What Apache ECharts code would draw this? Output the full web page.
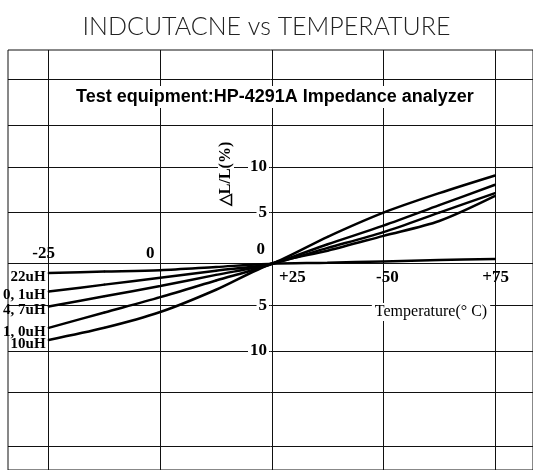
<!DOCTYPE html>
<html>
<head>
<meta charset="utf-8">
<title>Inductance vs Temperature</title>
<script src="https://cdn.jsdelivr.net/npm/echarts@6/dist/echarts.min.js"></script>
<style>
  html, body { margin: 0; padding: 0; background: #fff; }
  #chart { width: 533px; height: 470px; }
</style>
</head>
<body>
<div id="chart"></div>
<script>
// temperature points (deg C) the curves were read at
const temps = [-25, -12.5, 0, 12.5, 25, 37.5, 50, 62.5, 75];

// dL/L (%) for each part
const seriesNames = ['22uH', '0, 1uH', '4, 7uH', '1, 0uH', '10uH'];
const v22uH = [-1.0, -0.85, -0.7, -0.35, 0, 0.1, 0.25, 0.4, 0.5];
const v0p1uH = [-3.0, -2.25, -1.5, -0.75, 0, 1.7, 3.4, 5.5, 7.6];
const v4p7uH = [-4.6, -3.5, -2.4, -1.2, 0, 2.1, 4.1, 6.3, 8.5];
const v1p0uH = [-6.9, -5.25, -3.6, -1.8, 0, 2.9, 5.5, 7.6, 9.5];
const v10uH = [-8.2, -6.9, -5.2, -2.8, 0, 1.4, 3.0, 4.6, 7.3];
const allValues = [v22uH, v0p1uH, v4p7uH, v1p0uH, v10uH];

// axis ticks as printed (the original has "-50" where +50 belongs)
const xTopTicks = [-25, 0];
const xTopText = ['-25', '0'];
const xBottomTicks = [25, 50, 75];
const xBottomText = ['+25', '-50', '+75'];
const xGridVals = [-25, 0, 25, 50, 75];

// the original grid is hand drawn, so the rows are not evenly spaced
const yTickVals = [10.4, 5.5, 0, -4.5, -9.4];
const yTickText = ['10', '5', '0', '5', '10'];
const hGridVals = [19.9, 14.9, 10.4, 5.5, 0, -4.5, -9.4, -13.8, -19.6];

const serif = "'Liberation Serif', 'Times New Roman', serif";
const labelFont = { fontFamily: serif, fontWeight: 'bold', fontSize: 17, color: '#000' };

const chart = echarts.init(document.getElementById('chart'));

const curves = seriesNames.map((name, k) => ({
  name: name,
  type: 'line',
  xAxisIndex: 1,
  z: 5,
  smooth: 0.3,
  symbol: 'circle',
  symbolSize: 2,
  showSymbol: true,
  itemStyle: { color: '#000' },
  lineStyle: { color: '#000', width: 2.5 },
  label: {
    show: true,
    position: 'left',
    distance: 2,
    offset: [0, 4],
    fontFamily: serif,
    fontWeight: 'bold',
    fontSize: 15,
    color: '#000',
    formatter: p => (p.dataIndex === 0 ? name : '')
  },
  data: temps.map((t, i) => [t, allValues[k][i]])
}));

const gridLines = {
  name: 'grid',
  type: 'line',
  xAxisIndex: 1,
  data: [],
  markLine: {
    silent: true,
    symbol: 'none',
    z: 1,
    label: { show: false },
    lineStyle: { color: '#111', width: 1, type: 'solid' },
    data: hGridVals.map(v => ({ yAxis: v })).concat(xGridVals.map(v => ({ xAxis: v })))
  }
};

chart.setOption({
  animation: false,
  title: [
    {
      text: 'INDCUTACNE vs TEMPERATURE',
      left: 'center',
      top: 9,
      textStyle: { fontFamily: 'Lato', fontSize: 25, fontWeight: 300, color: '#222' }
    },
    {
      text: 'Test equipment:HP-4291A Impedance analyzer',
      left: 72,
      top: 86,
      padding: [2, 4],
      backgroundColor: '#fff',
      z: 20,
      textStyle: { fontFamily: "'Liberation Sans', Arial, sans-serif", fontSize: 18, fontWeight: 'bold', color: '#000' }
    }
  ],
  grid: {
    left: 8, top: 50, right: -2, bottom: -2,
    show: true, borderColor: '#111', borderWidth: 1
  },
  xAxis: [
    {
      type: 'value', min: -34.1, max: 83.5,
      position: 'top', offset: -215, z: 10,
      axisLine: { show: false }, axisTick: { show: false }, splitLine: { show: false },
      axisLabel: {
        customValues: xTopTicks,
        margin: 3,
        formatter: v => {
          const i = xTopTicks.indexOf(v);
          return i === 0 ? '{a|' + xTopText[i] + '}' : '{b|' + xTopText[i] + '}';
        },
        rich: {
          a: Object.assign({ padding: [0, 10, 0, 0] }, labelFont),
          b: Object.assign({ padding: [0, 20, 0, 0] }, labelFont)
        }
      }
    },
    {
      type: 'value', min: -34.1, max: 83.5,
      position: 'bottom', offset: -207, z: 10,
      axisLine: { show: false }, axisTick: { show: false }, splitLine: { show: false },
      axisLabel: {
        customValues: xBottomTicks,
        margin: 6,
        formatter: v => {
          const i = xBottomTicks.indexOf(v);
          const key = ['a', 'b', 'c'][i];
          return '{' + key + '|' + xBottomText[i] + '}';
        },
        rich: {
          a: Object.assign({ padding: [0, 0, 0, 41] }, labelFont),
          b: Object.assign({ padding: [0, 0, 0, 8] }, labelFont),
          c: Object.assign({ padding: [0, 0, 0, 1] }, labelFont)
        }
      }
    }
  ],
  yAxis: {
    type: 'value', min: -22.2, max: 23,
    position: 'left', offset: -265, z: 10,
    axisLine: { show: false }, axisTick: { show: false }, splitLine: { show: false },
    axisLabel: {
      customValues: yTickVals,
      margin: 4,
      formatter: v => {
        let i = 0;
        yTickVals.forEach((t, j) => { if (Math.abs(t - v) < 1e-6) i = j; });
        return v === 0 ? '{z|0}' : '{g|' + yTickText[i] + '}';
      },
      rich: {
        g: Object.assign({ backgroundColor: '#fff', padding: [1, 2] }, labelFont),
        z: Object.assign({ padding: [0, 4, 28, 0] }, labelFont)
      }
    }
  },
  graphic: [
    {
      type: 'text', x: 226, y: 174, rotation: Math.PI / 2, z: 20,
      style: {
        text: '△L/L(%)', fontFamily: serif, fontWeight: 'bold', fontSize: 16, fill: '#000',
        align: 'center', verticalAlign: 'middle', textAlign: 'center', textVerticalAlign: 'middle',
        backgroundColor: '#fff', padding: [0, 4]
      }
    },
    {
      type: 'text', x: 431, y: 312, z: 20,
      style: {
        text: 'Temperature(° C)', fontFamily: serif, fontSize: 16, fill: '#000',
        align: 'center', verticalAlign: 'middle', textAlign: 'center', textVerticalAlign: 'middle',
        backgroundColor: '#fff', padding: [1, 3]
      }
    }
  ],
  series: [gridLines].concat(curves)
});
</script>
</body>
</html>
